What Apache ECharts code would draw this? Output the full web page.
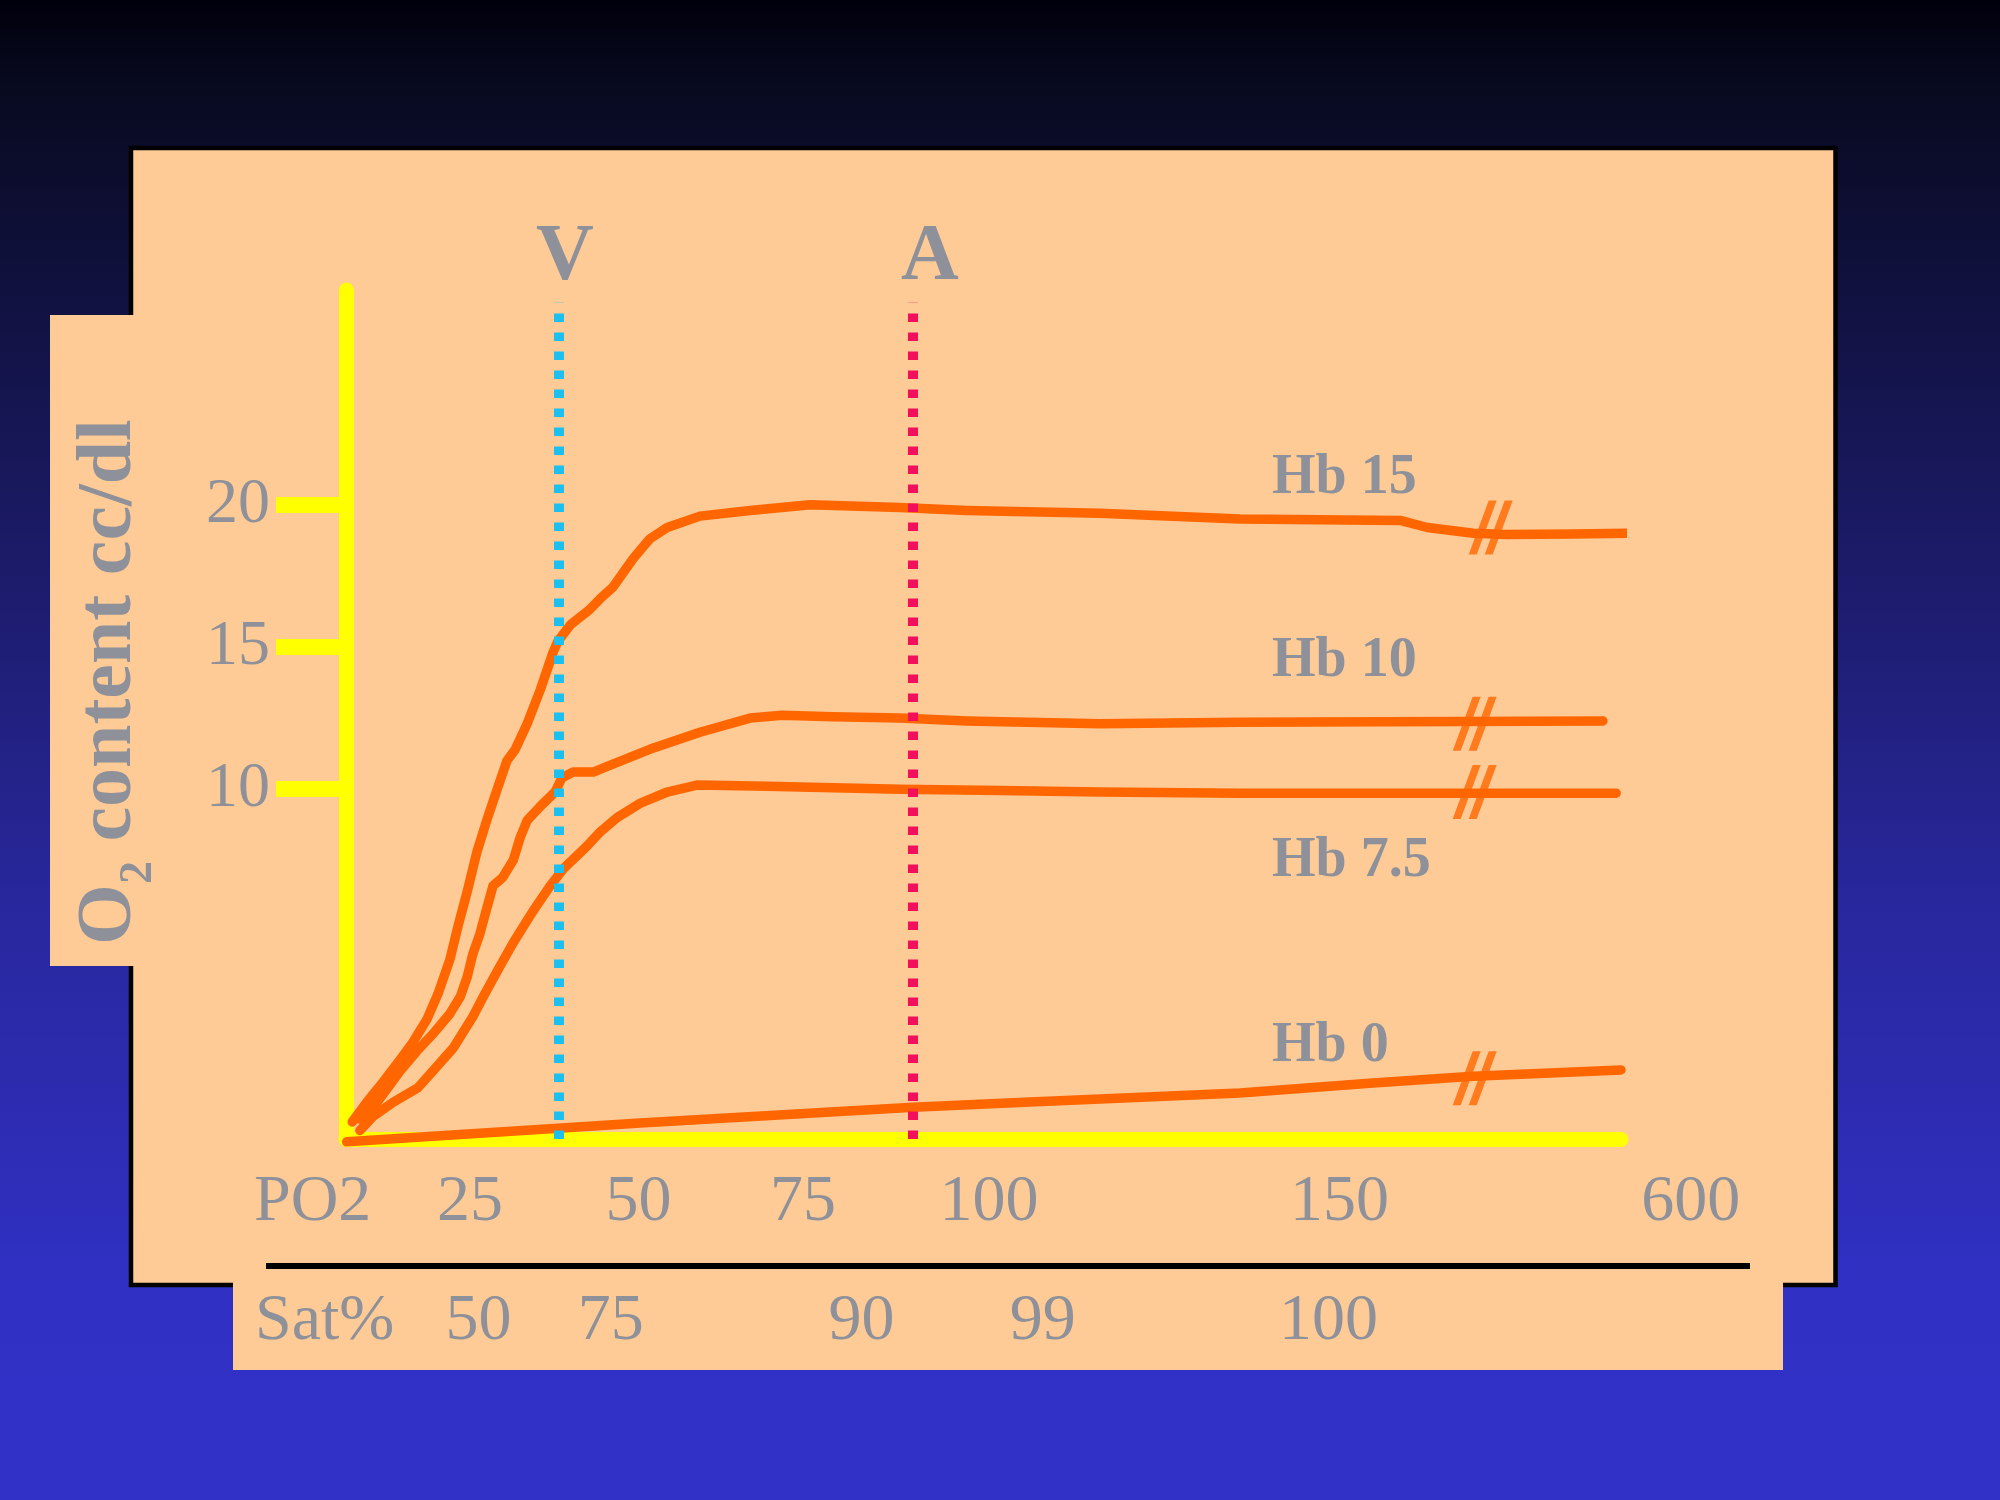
<!DOCTYPE html>
<html><head><meta charset="utf-8">
<script src="https://cdn.jsdelivr.net/npm/echarts@6/dist/echarts.min.js"></script>
<style>html,body{margin:0;padding:0;width:2000px;height:1500px;overflow:hidden;background:#000}#c{width:2000px;height:1500px}</style>
</head><body><div id="c"></div>
<script>
// O2 content (cc/dl) vs PO2 (mmHg); points past the "//" break sit on the compressed part of the axis
const hb15 = [[8.9,-1.7],[11.0,-1.0],[13.3,-0.3],[15.8,0.5],[17.6,1.1],[19.6,1.9],[21.2,2.8],[22.9,4.0],[24.1,5.2],[25.4,6.4],[26.8,7.8],[28.2,8.9],[29.7,10.0],[31.1,11.0],[32.3,11.4],[34.0,12.3],[35.9,13.5],[37.7,14.8],[38.4,15.2],[40.3,15.8],[42.9,16.3],[44.5,16.7],[46.3,17.1],[49.2,18.1],[51.6,18.8],[54.1,19.2],[58.8,19.6],[66.0,19.8],[74.6,20.0],[87.5,19.9],[97.1,19.8],[116.2,19.7],[136.3,19.5],[159.3,19.45],[163.2,19.2],[169.8,19.0],[174.6,18.95],[184.1,18.97],[192.7,19.0]];
const hb10 = [[10.0,-1.6],[11.9,-1.2],[15.8,0.1],[18.2,0.8],[20.5,1.4],[22.9,2.1],[24.4,2.7],[25.4,3.4],[26.2,4.2],[27.2,4.9],[28.2,5.8],[29.1,6.6],[30.5,6.9],[32.0,7.5],[33.0,8.3],[34.0,8.9],[35.9,9.4],[38.0,9.9],[39.0,10.4],[40.6,10.6],[43.5,10.6],[45.5,10.8],[51.6,11.4],[58.8,12.0],[66.0,12.5],[70.6,12.6],[77.9,12.55],[87.5,12.5],[97.1,12.4],[116.2,12.3],[136.3,12.35],[188.4,12.4]];
const hb75 = [[10.0,-2.0],[11.9,-1.5],[14.8,-1.0],[18.3,-0.5],[20.5,0.1],[23.4,0.9],[26.2,2.0],[27.7,2.7],[29.7,3.6],[32.0,4.6],[34.8,5.7],[37.3,6.6],[39.2,7.2],[42.6,8.0],[44.5,8.5],[46.9,9.0],[50.2,9.5],[54.1,9.9],[58.5,10.15],[68.4,10.1],[87.5,10.0],[101.9,9.95],[116.2,9.9],[136.3,9.86],[190.3,9.86]];
const hb0 = [[8.1,-2.4],[50.2,-1.74],[89.4,-1.18],[106.2,-1.0],[136.3,-0.68],[155.4,-0.33],[169.8,-0.09],[191.0,0.13]];
const breakMarks = [[172.3,19.2],[170.0,12.3],[170.0,9.9],[170.0,-0.16]];
const curveNames = ['Hb 15','Hb 10','Hb 7.5','Hb 0'];
const yTicks = [10, 15, 20];
const po2Labels = ['25','50','75','100','150','600'];
const po2LabelAt = [25.8, 50, 73.6, 100.3, 150.6, 201];   // where each label sits; 600 is beyond the axis break
const satLabels = ['50','75','90','99','100'];
const satLabelAt = [27, 46, 82, 108, 149];                 // where each saturation sits on the PO2 row
const venousPO2 = 38.6, arterialPO2 = 89.4;
const lineTop = 27.1, lineBottom = -2.3;

const GRAY = '#8E9199', ORANGE = '#FF6600', YELLOW = '#FFFF00', PEACH = '#FECB97';
const SERIF = '"Liberation Serif","Times New Roman",serif';
const XMIN = 8, XMAX = 191, XLBLMAX = 220;
const PX_PER_UNIT = 1275 / (XMAX - XMIN);

const chart = echarts.init(document.getElementById('c'), null, {renderer: 'canvas', width: 2000, height: 1500});

function curve(name, data, extra) {
  return Object.assign({
    name: name, type: 'line', data: data, xAxisIndex: 0, yAxisIndex: 0,
    symbol: 'none', smooth: false, clip: false, z: 3,
    lineStyle: {color: ORANGE, width: 9.5, join: 'round', cap: 'round'}
  }, extra || {});
}
function txt(text, x, y, size, bold, align, extra) {
  return Object.assign({
    type: 'text', x: x, y: y, z: 100,
    style: {text: text, fill: GRAY, fontFamily: SERIF, fontSize: size, fontWeight: bold ? 'bold' : 'normal',
            align: align || 'left', verticalAlign: 'middle'}
  }, extra || {});
}
const hideAxis = {axisLine: {show: false}, axisTick: {show: false}, axisLabel: {show: false}, splitLine: {show: false}};

const option = {
  animation: false,
  backgroundColor: {type: 'linear', x: 0, y: 0, x2: 0, y2: 1, colorStops: [
    {offset: 0, color: '#00000c'}, {offset: 0.06, color: '#080a20'}, {offset: 0.25, color: '#14144c'},
    {offset: 0.6, color: '#28279c'}, {offset: 0.86, color: '#3030c4'}, {offset: 1, color: '#3131c8'}]},
  grid: [
    {left: 346, top: 290, width: 1275, height: 849, outerBoundsMode: 'none'},
    {left: 346, top: 1150, width: (XLBLMAX - XMIN) * PX_PER_UNIT, height: 52.5, outerBoundsMode: 'none'},
    {left: 346, top: 1270, width: (XLBLMAX - XMIN) * PX_PER_UNIT, height: 51.5, outerBoundsMode: 'none'}
  ],
  xAxis: [
    {type: 'value', gridIndex: 0, min: XMIN, max: XMAX, position: 'bottom',
     axisLine: {show: true, onZero: false, lineStyle: {color: YELLOW, width: 15}},
     axisTick: {show: false}, axisLabel: {show: false}, splitLine: {show: false}},
    {type: 'value', gridIndex: 1, min: XMIN, max: XLBLMAX, position: 'bottom',
     axisLine: {show: false, onZero: false}, axisTick: {show: false}, splitLine: {show: false},
     axisLabel: {show: true, customValues: po2LabelAt, margin: 0, verticalAlign: 'middle', color: GRAY,
       fontFamily: SERIF, fontSize: 66, formatter: v => po2Labels[po2LabelAt.indexOf(v)] || ''}},
    {type: 'value', gridIndex: 2, min: XMIN, max: XLBLMAX, position: 'bottom',
     axisLine: {show: false, onZero: false}, axisTick: {show: false}, splitLine: {show: false},
     axisLabel: {show: true, customValues: satLabelAt, margin: 0, verticalAlign: 'middle', color: GRAY,
       fontFamily: SERIF, fontSize: 66, formatter: v => satLabels[satLabelAt.indexOf(v)] || ''}}
  ],
  yAxis: [
    {type: 'value', gridIndex: 0, min: -2.3, max: 27.55,
     axisLine: {show: true, onZero: false, lineStyle: {color: YELLOW, width: 15}},
     axisTick: {show: true, customValues: yTicks, length: 70, lineStyle: {color: YELLOW, width: 16}},
     axisLabel: {show: true, customValues: yTicks, margin: 76, color: GRAY, fontFamily: SERIF, fontSize: 64},
     splitLine: {show: false}},
    Object.assign({type: 'value', gridIndex: 1, min: 0, max: 1}, hideAxis),
    Object.assign({type: 'value', gridIndex: 2, min: 0, max: 1}, hideAxis)
  ],
  series: [
    curve(curveNames[0], hb15),
    curve(curveNames[1], hb10),
    curve(curveNames[2], hb75),
    curve(curveNames[3], hb0, {
      markLine: {
        silent: true, symbol: ['none', 'none'], label: {show: false}, z: 6,
        data: [
          [{coord: [venousPO2, lineBottom], lineStyle: {color: '#1CC0F0', width: 10, type: [8.5, 10.5], cap: 'butt'}},
           {coord: [venousPO2, lineTop]}],
          [{coord: [arterialPO2, lineBottom], lineStyle: {color: '#F2105C', width: 10, type: [8.5, 10.5], cap: 'butt'}},
           {coord: [arterialPO2, lineTop]}]
        ]
      }
    }),
    {name: 'break', type: 'scatter', xAxisIndex: 0, yAxisIndex: 0, data: breakMarks, clip: false, z: 4,
     symbol: 'path://M0,54L8,54L28,0L20,0Z M16,54L24,54L44,0L36,0Z', symbolSize: [44, 54],
     itemStyle: {color: ORANGE}, silent: true}
  ],
  graphic: [
    {type: 'rect', z: -20, shape: {x: 131, y: 148, width: 1704.5, height: 1137},
     style: {fill: PEACH, stroke: '#000000', lineWidth: 4.5}},
    {type: 'rect', z: -19, shape: {x: 50, y: 315, width: 84, height: 651}, style: {fill: PEACH}},
    {type: 'rect', z: -19, shape: {x: 233, y: 1281, width: 1550, height: 89}, style: {fill: PEACH}},
    {type: 'rect', z: -18, shape: {x: 266, y: 1263, width: 1484, height: 6}, style: {fill: '#000000'}},
    txt('V', 565, 258.5, 80, true, 'center'),
    txt('A', 930, 258.5, 80, true, 'center'),
    txt(curveNames[0], 1272, 478.5, 56, true),
    txt(curveNames[1], 1272, 661.5, 56, true),
    txt(curveNames[2], 1272, 862, 56, true),
    txt(curveNames[3], 1272, 1046.5, 56, true),
    txt('PO2', 254, 1202.5, 66, false),
    txt('Sat%', 255, 1321.5, 66, false),
    {type: 'text', x: 110, y: 682, z: 100, rotation: Math.PI / 2,
     style: {text: '{a|O}{s|2}{a| content cc/dl}', align: 'center', verticalAlign: 'middle',
       rich: {
         a: {fill: GRAY, color: GRAY, fontFamily: SERIF, fontSize: 78, fontWeight: 'bold', lineHeight: 104, verticalAlign: 'middle'},
         s: {fill: GRAY, color: GRAY, fontFamily: SERIF, fontSize: 46, fontWeight: 'bold', lineHeight: 104, verticalAlign: 'bottom'}
       }}}
  ]
};
chart.setOption(option);
</script></body></html>
